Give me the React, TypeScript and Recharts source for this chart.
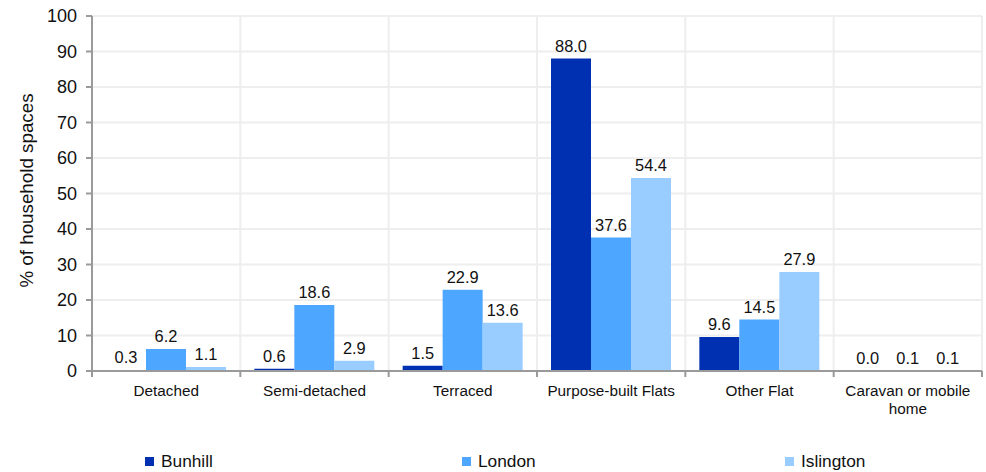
import React from 'react';
import { BarChart, Bar, XAxis, YAxis, CartesianGrid, LabelList, Legend, Text } from 'recharts';

const categories = ['Detached', 'Semi-detached', 'Terraced', 'Purpose-built Flats', 'Other Flat', 'Caravan or mobile home'];
const bunhill = [0.3, 0.6, 1.5, 88.0, 9.6, 0.0];
const london = [6.2, 18.6, 22.9, 37.6, 14.5, 0.1];
const islington = [1.1, 2.9, 13.6, 54.4, 27.9, 0.1];
const yTicks = [0, 10, 20, 30, 40, 50, 60, 70, 80, 90, 100];
const seriesNames = ['Bunhill', 'London', 'Islington'];
const colors = ['#0030B2', '#4DA6FF', '#99CCFF'];

const data = categories.map((c, i) => ({
  name: c,
  Bunhill: bunhill[i],
  London: london[i],
  Islington: islington[i],
}));

const W = 986;
const H = 472;
const FONT = '"Liberation Sans", Arial, sans-serif';
const AXIS = '#9a9a9a';

const CatTick = (props: any) => {
  const { x, y, payload, index } = props;
  const half = 890 / 12;
  return (
    <g>
      <line x1={x - half} y1={y - 8} x2={x - half} y2={y - 2} stroke={AXIS} strokeWidth={2} />
      {index === categories.length - 1 && (
        <line x1={x + half} y1={y - 8} x2={x + half} y2={y - 2} stroke={AXIS} strokeWidth={2} />
      )}
      <Text
        x={x}
        y={y + 6}
        width={140}
        textAnchor="middle"
        verticalAnchor="start"
        lineHeight={18}
        fontSize={15.3}
        fontFamily={FONT}
        fill="#111"
      >
        {payload.value}
      </Text>
    </g>
  );
};

const legendX = [145, 462, 785];

const LegendContent = () => (
  <div style={{ position: 'relative', height: 30, width: W, fontFamily: FONT, fontSize: 17.3, color: '#111' }}>
    {seriesNames.map((n, i) => (
      <div key={n} style={{ position: 'absolute', left: legendX[i], top: 9, display: 'flex', alignItems: 'center', height: 20 }}>
        <span style={{ display: 'inline-block', width: 9, height: 9, background: colors[i], marginRight: 7 }} />
        <span>{n}</span>
      </div>
    ))}
  </div>
);

export default function App() {
  return (
    <div style={{ position: 'absolute', left: 0, top: 0, width: W, height: H, background: '#fff' }}>
      <BarChart
        width={W}
        height={H}
        data={data}
        margin={{ top: 16, right: 4, left: 0, bottom: 0 }}
        barGap={0}
        barCategoryGap={14}
      >
        <CartesianGrid
          stroke="#eeeeee"
          strokeWidth={2}
          verticalCoordinatesGenerator={({ offset }: any) =>
            [1, 2, 3, 4, 5, 6].map((i) => offset.left + (i * offset.width) / 6)
          }
        />
        <XAxis
          dataKey="name"
          interval={0}
          height={71}
          tickLine={false}
          axisLine={{ stroke: AXIS, strokeWidth: 2 }}
          tick={<CatTick />}
        />
        <YAxis
          width={92}
          domain={[0, 100]}
          ticks={yTicks}
          interval={0}
          tickSize={6}
          tickMargin={9}
          tickLine={{ stroke: AXIS, strokeWidth: 2 }}
          axisLine={{ stroke: AXIS, strokeWidth: 2 }}
          tick={{ fontSize: 18, fontFamily: FONT, fill: '#111' }}
          label={{
            value: '% of household spaces',
            angle: -90,
            position: 'insideLeft',
            dx: 21,
            dy: -3,
            style: { textAnchor: 'middle', fontSize: 18.8, fontFamily: FONT, fill: '#111' },
          }}
        />
        <Legend verticalAlign="bottom" content={<LegendContent />} wrapperStyle={{ left: 0, width: W }} />
        {seriesNames.map((n, i) => (
          <Bar key={n} dataKey={n} fill={colors[i]} barSize={40} minPointSize={0.01} isAnimationActive={false}>
            <LabelList
              dataKey={n}
              position="top"
              offset={7}
              formatter={(v: any) => Number(v).toFixed(1)}
              style={{ fontSize: 16.4, fontFamily: FONT, fill: '#111' }}
            />
          </Bar>
        ))}
      </BarChart>
    </div>
  );
}
